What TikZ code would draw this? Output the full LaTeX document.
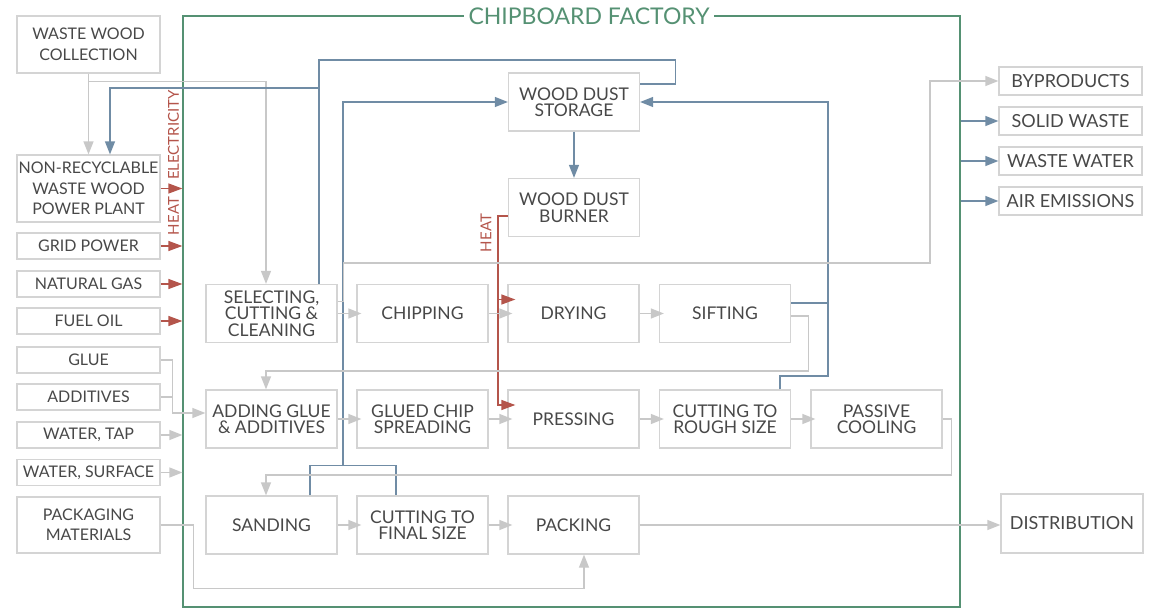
\documentclass[tikz,border=0pt]{standalone}
\usepackage{fontspec}
\setmainfont{Lato}
\definecolor{BoxLine}{RGB}{212,212,212}
\definecolor{BoxText}{RGB}{72,72,72}
\definecolor{FlowGrey}{RGB}{200,200,200}
\definecolor{FlowBlue}{RGB}{112,140,165}
\definecolor{FlowRed}{RGB}{180,85,75}
\definecolor{FactoryGreen}{RGB}{85,145,115}
\usetikzlibrary{arrows.meta, positioning, calc}

\begin{document}
\begin{tikzpicture}[x=1pt, y=-1pt,
    outbox/.style={draw=BoxLine, line width=1.3pt, minimum width=143pt, minimum height=26pt,
      inner sep=0pt, align=center, text=BoxText, font=\fontsize{16}{20.5}\selectfont},
    procbox/.style={draw=BoxLine, line width=1.3pt, minimum width=131pt, minimum height=58pt,
      inner sep=0pt, align=center, text=BoxText, font=\fontsize{17.5}{16.5}\selectfont},
    sinkbox/.style={outbox, minimum height=28pt, font=\fontsize{18}{18}\selectfont},
    greyline/.style={draw=FlowGrey, line width=1.3pt},
    greyflow/.style={greyline, -{Triangle[length=13pt,width=10pt]}},
    lineflow/.style={greyflow, shorten >=-5pt},
    blueline/.style={draw=FlowBlue, line width=1.3pt},
    blueflow/.style={blueline, -{Triangle[length=13pt,width=10pt]}},
    redflow/.style={draw=FlowRed, line width=1.3pt, -{Triangle[length=14pt,width=10pt]}},
    heatlabel/.style={rotate=90, text=FlowRed, inner sep=0pt, font=\fontsize{15}{15}\selectfont}]
  \useasboundingbox (0,0) rectangle (1149,610);

  % the factory frame
  \node[draw=FactoryGreen, line width=1.3pt, minimum width=777pt, minimum height=591pt, inner sep=0pt] (factory) at (571.5,311.5) {};
  \node[fill=white, text=FactoryGreen, inner xsep=5pt, inner ysep=0pt, font=\fontsize{23}{23}\selectfont] (title) at (589,16) {CHIPBOARD FACTORY};

  % inputs
  \node[outbox, minimum height=57pt] (wwc) at (88.5,44.5) {WASTE WOOD\\COLLECTION};
  \node[outbox, minimum height=67pt] (plant) at (88.5,188.5) {NON-RECYCLABLE\\WASTE WOOD\\POWER PLANT};
  \node[outbox] (grid) at (88.5,246) {GRID POWER};
  \node[outbox] (gas) at (88.5,284) {NATURAL GAS};
  \node[outbox] (oil) at (88.5,321) {FUEL OIL};
  \node[outbox] (glue) at (88.5,360) {GLUE};
  \node[outbox] (additives) at (88.5,397) {ADDITIVES};
  \node[outbox] (tap) at (88.5,435) {WATER, TAP};
  \node[outbox] (surface) at (88.5,472.5) {WATER, SURFACE};
  \node[outbox, minimum height=56pt] (packmat) at (88.5,525) {PACKAGING\\MATERIALS};

  % process steps
  \node[procbox] (storage) at (574,102) {WOOD DUST\\STORAGE};
  \node[procbox] (burner) at (574,207.5) {WOOD DUST\\BURNER};
  \node[procbox] (select) at (271.5,313.5) {SELECTING,\\CUTTING \&\\CLEANING};
  \node[procbox] (chip) at (422.5,313.5) {CHIPPING};
  \node[procbox] (dry) at (573.5,313.5) {DRYING};
  \node[procbox] (sift) at (725,313.5) {SIFTING};
  \node[procbox] (adding) at (271.5,419) {ADDING GLUE\\\& ADDITIVES};
  \node[procbox] (spread) at (422.5,419) {GLUED CHIP\\SPREADING};
  \node[procbox] (press) at (573.5,419) {PRESSING};
  \node[procbox] (rough) at (725,419) {CUTTING TO\\ROUGH SIZE};
  \node[procbox] (cool) at (876.5,419) {PASSIVE\\COOLING};
  \node[procbox] (sand) at (271.5,525) {SANDING};
  \node[procbox] (final) at (422.5,525) {CUTTING TO\\FINAL SIZE};
  \node[procbox] (pack) at (573.5,525) {PACKING};

  % outputs
  \node[sinkbox] (byproducts) at (1070.5,81) {BYPRODUCTS};
  \node[sinkbox] (solid) at (1070.5,121) {SOLID WASTE};
  \node[sinkbox] (water) at (1070.5,161) {WASTE WATER};
  \node[sinkbox] (air) at (1070.5,201) {AIR EMISSIONS};
  \node[sinkbox, minimum width=142pt, minimum height=59pt] (dist) at (1072,523.5) {DISTRIBUTION};

  % waste wood
  \draw[greyflow] (wwc) -- (plant);
  \draw[greyflow] ([yshift=-7.7pt]wwc.south) -| ([xshift=-5.5pt]select.north);

  % wood dust
  \draw[blueline] ([yshift=18pt]storage.east) -- ++(35,0) |- (319,60) -- ([xshift=47.5pt]select.north);
  \coordinate (dustsplit) at (319,88);
  \draw[blueflow] (dustsplit) -| ([xshift=21.5pt]plant.north);
  \draw[blueline] ([xshift=38.5pt]sand.north) -- ++(0,-30) -| ([xshift=-26.5pt]final.north);
  \coordinate (finedust) at (343,466);
  \draw[blueflow] (finedust) |- (storage.west);
  \draw[blueline] ([yshift=10.5pt]sift.east) -- (828,303);
  \draw[blueflow] ([xshift=55pt]rough.north) |- (828,376) |- (storage.east);
  \draw[blueflow] (storage) -- (burner);

  % heat
  \draw[redflow, shorten >=-8pt] ([yshift=-8.5pt]burner.west) -- ++(-10,0) |- ([yshift=14pt]press.west);
  \coordinate (heatsplit) at (499,299.5);
  \draw[redflow, shorten >=-8pt] (heatsplit) -- ([yshift=14pt]dry.west);
  \node[heatlabel] (burnerheat) at (486,233) {HEAT};

  % energy inputs
  \draw[redflow] (plant) -- (plant -| factory.west);
  \draw[redflow] (grid) -- (grid -| factory.west);
  \draw[redflow] (gas) -- (gas -| factory.west);
  \draw[redflow] (oil) -- (oil -| factory.west);
  \node[heatlabel] (elec) at (173.5,135) {ELECTRICITY};
  \node[heatlabel] (plantheat) at (173.5,216) {HEAT};

  % materials
  \draw[greyflow] (glue.east) -- ++(12,0) |- ([yshift=6pt]adding.west);
  \draw[greyline] (additives.east) -- ++(12,0);
  \draw[greyflow] (tap) -- (tap -| factory.west);
  \draw[greyflow] (surface) -- (surface -| factory.west);
  \draw[greyflow] (packmat.east) -- ++(33,0) |- ([xshift=10.5pt,yshift=-34pt]pack.south) -- ([xshift=10.5pt]pack.south);

  % production line
  \draw[lineflow] (select) -- (chip);
  \draw[lineflow] (chip) -- (dry);
  \draw[lineflow] (dry) -- (sift);
  \draw[greyflow] ([yshift=-2.5pt]sift.east) -- ++(17,0) -- ++(0,55) -| ([xshift=-5.5pt]adding.north);
  \draw[lineflow] (adding) -- (spread);
  \draw[lineflow] (spread) -- (press);
  \draw[lineflow] (press) -- (rough);
  \draw[lineflow] (rough) -- (cool);
  \draw[greyflow] (cool.east) -- ++(9,0) -- ++(0,56) -| ([xshift=-5.5pt]sand.north);
  \draw[lineflow] (sand) -- (final);
  \draw[lineflow] (final) -- (pack);

  % outputs
  \draw[greyflow] ([yshift=12pt]select.east) -- ++(6,0) |- (930,263) |- (byproducts.west);
  \draw[blueflow] (solid -| factory.east) -- (solid);
  \draw[blueflow] (water -| factory.east) -- (water);
  \draw[blueflow] (air -| factory.east) -- (air);
  \draw[greyflow] (pack) -- (pack -| dist.west);
\end{tikzpicture}
\end{document}
